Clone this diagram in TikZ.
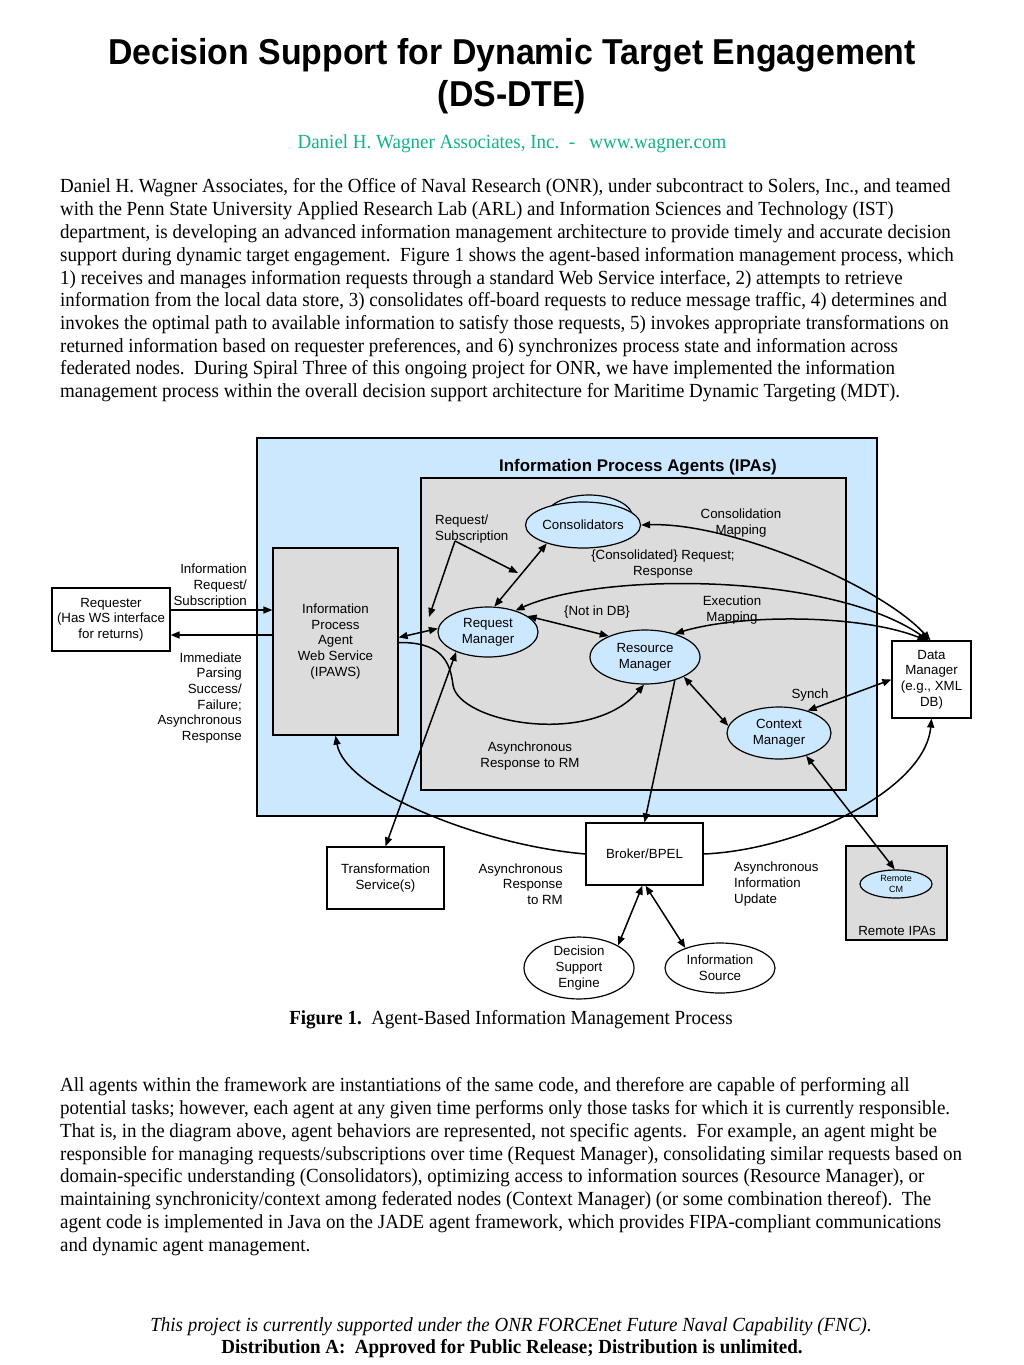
\documentclass[tikz,border=0pt]{standalone}
\usepackage{fontspec}
\setmainfont{Liberation Serif}[FakeStretch=0.95]
\newfontfamily\arialf{Liberation Sans}
\newfontfamily\arialt{Liberation Sans}[FakeStretch=0.94]
\usetikzlibrary{arrows.meta,shapes.geometric,calc}
\definecolor{ipablue}{RGB}{204,232,255}
\definecolor{ipagray}{RGB}{220,220,220}
\definecolor{wagnergreen}{RGB}{20,178,140}
\tikzset{
  titlef/.style={anchor=base, inner sep=0pt, font=\arialt\bfseries\fontsize{36}{42}\selectfont},
  serifline/.style={anchor=base, inner sep=0pt, font=\fontsize{20}{23}\selectfont},
  bodyline/.style={anchor=base west, inner sep=0pt, font=\fontsize{20}{23}\selectfont},
  lbl/.style={inner sep=0pt, align=center, font=\arialf\fontsize{13.3}{15.7}\selectfont},
  boldlbl/.style={inner sep=0pt, font=\arialf\bfseries\fontsize{16.9}{19}\selectfont},
  boxw/.style={draw, fill=white, line width=1.2pt, inner sep=0pt, align=center, font=\arialf\fontsize{13.3}{15.7}\selectfont},
  boxg/.style={boxw, fill=ipagray},
  ell/.style={ellipse, draw, fill=ipablue, line width=1.2pt, inner sep=0pt, align=center, font=\arialf\fontsize{13.3}{15.7}\selectfont},
  ellw/.style={ell, fill=white},
  con/.style={line width=1.5pt},
  arr/.style={con, -{Triangle[length=9pt,width=7pt]}},
  darr/.style={con, {Triangle[length=9pt,width=7pt]}-{Triangle[length=9pt,width=7pt]}}
}
\begin{document}
\begin{tikzpicture}[x=1pt,y=-1pt]
\useasboundingbox (0,0) rectangle (1024,1365);
\fill[white] (0,0) rectangle (1024,1365);

% ---- title block ----
\node[titlef] (t1) at (512,64) {Decision Support for Dynamic Target Engagement};
\node[titlef] (t2) at (512,106) {(DS-DTE)};
\node[serifline, text=wagnergreen] (sub) at (512,148) {Daniel H. Wagner Associates, Inc.\ \ -\ \ \ www.wagner.com};

% ---- first paragraph ----
\node[bodyline] (p1) at (60,192) {Daniel H. Wagner Associates, for the Office of Naval Research (ONR), under subcontract to Solers, Inc., and teamed};
\node[bodyline] (p2) at (60,215) {with the Penn State University Applied Research Lab (ARL) and Information Sciences and Technology (IST)};
\node[bodyline] (p3) at (60,238) {department, is developing an advanced information management architecture to provide timely and accurate decision};
\node[bodyline] (p4) at (60,261) {support during dynamic target engagement.\ \ Figure 1 shows the agent-based information management process, which};
\node[bodyline] (p5) at (60,284) {1) receives and manages information requests through a standard Web Service interface, 2) attempts to retrieve};
\node[bodyline] (p6) at (60,306) {information from the local data store, 3) consolidates off-board requests to reduce message traffic, 4) determines and};
\node[bodyline] (p7) at (60,329) {invokes the optimal path to available information to satisfy those requests, 5) invokes appropriate transformations on};
\node[bodyline] (p8) at (60,352) {returned information based on requester preferences, and 6) synchronizes process state and information across};
\node[bodyline] (p9) at (60,374) {federated nodes.\ \ During Spiral Three of this ongoing project for ONR, we have implemented the information};
\node[bodyline] (p10) at (60,397) {management process within the overall decision support architecture for Maritime Dynamic Targeting (MDT).};

% ---- diagram frames ----
\node[draw, fill=ipablue, line width=1.2pt, minimum width=620pt, minimum height=378pt, inner sep=0pt] (ipa) at (567,627) {};
\node[boldlbl] (ipatitle) at (638,467) {Information Process Agents (IPAs)};
\node[draw, fill=ipagray, line width=1.2pt, minimum width=425pt, minimum height=312pt, inner sep=0pt] (core) at (633.5,634) {};

% ---- nodes ----
\node[boxg, minimum width=125pt, minimum height=187pt] (ipaws) at (335.5,641.5) {Information\\Process\\Agent\\Web Service\\(IPAWS)};
\node[boxw, minimum width=118pt, minimum height=63pt] (req) at (111,619.5) {Requester\\(Has WS interface\\for returns)};
\node[boxw, minimum width=79pt, minimum height=77pt] (dm) at (931.5,679.5) {Data\\Manager\\(e.g., XML\\DB)};
\node[boxw, minimum width=117pt, minimum height=62pt] (broker) at (644.5,854) {Broker/BPEL};
\node[boxw, minimum width=117pt, minimum height=62pt] (trans) at (385.5,878) {Transformation\\Service(s)};
\node[boxg, minimum width=101pt, minimum height=94pt] (remote) at (896.5,893) {};
\node[lbl] (remotelbl) at (897,931) {Remote IPAs};
\node[ell, minimum width=72pt, minimum height=28pt, font=\arialf\fontsize{9}{11.5}\selectfont] (rcm) at (896,884) {Remote\\CM};

\node[ell, minimum width=88pt, minimum height=46pt] (consb) at (589,518) {};
\node[ell, minimum width=90pt, minimum height=46pt] (cons) at (583,525) {Consolidators};
\node[ell, minimum width=100pt, minimum height=50pt] (reqm) at (488,632) {Request\\Manager};
\node[ell, minimum width=110pt, minimum height=54pt] (resm) at (645,657) {Resource\\Manager};
\node[ell, minimum width=104pt, minimum height=52pt] (ctxm) at (779,733) {Context\\Manager};
\node[ellw, minimum width=110pt, minimum height=52pt] (dse) at (579,968) {Decision\\Support\\Engine};
\node[ellw, minimum width=110pt, minimum height=50pt] (isrc) at (720,968) {Information\\Source};

% ---- labels ----
\node[lbl, align=right, anchor=east] (lInfoReq) at (247,586) {Information\\Request/\\Subscription};
\node[lbl, align=right, anchor=east] (lImm) at (242,698) {Immediate\\Parsing\\Success/\\Failure;\\Asynchronous\\Response};
\node[lbl, align=left, anchor=west] (lReqSub) at (435,529) {Request/\\Subscription};
\node[lbl] (lConsMap) at (741,523) {Consolidation\\Mapping};
\node[lbl] (lConsReq) at (663,564) {\{Consolidated\} Request;\\Response};
\node[lbl] (lNotDB) at (597,612) {\{Not in DB\}};
\node[lbl] (lExec) at (732,610) {Execution\\Mapping};
\node[lbl] (lSynch) at (810,695) {Synch};
\node[lbl] (lAsyncRM) at (530,756) {Asynchronous\\Response to RM};
\node[lbl, align=right, anchor=east] (lAsyncResp) at (563,884) {Asynchronous\\Response\\to RM};
\node[lbl, align=left, anchor=west] (lAsyncInfo) at (734,884) {Asynchronous\\Information\\Update};

% ---- connectors ----
\coordinate (rq1) at ([yshift=9.5pt]req.east);
\draw[arr] (rq1) -- (rq1 -| ipaws.west);
\coordinate (rq2) at ([yshift=-15.5pt]req.east);
\draw[arr] (rq2 -| ipaws.west) -- (rq2);

\draw[darr] ([yshift=4pt]ipaws.east) -- (reqm.176);
\draw[darr] (reqm.76) -- (cons.207);

\coordinate (rs) at (455,541);
\coordinate (rsa) at (429,617);
\coordinate (rsb) at (518,573);
\draw[arr] (rs) -- (rsa);
\draw[arr] (rs) -- (rsb);

\draw[darr] (reqm.22) -- (resm.150);
\draw[darr] (reqm.38) .. controls (600,572) and (830,572) .. ([xshift=-3pt]dm.north);
\draw[darr] (cons.east) .. controls (730,522) and (880,585) .. ([xshift=-1pt]dm.north);
\draw[darr] (resm.38) .. controls (740,614) and (860,614) .. ([xshift=-5pt]dm.north);

\draw[darr] (resm.-27) -- (ctxm.172);
\draw[darr] (ctxm.38) -- (dm.west);
\draw[arr] (resm.-38) -- (broker.north);

\draw[arr] ([yshift=-1pt]ipaws.east) .. controls (440,642) and (450,660) .. (453,685)
  .. controls (458,722) and (590,748) .. (resm.-92);

\draw[darr] (reqm.212) -- (trans.north);
\draw[arr] (broker.west) .. controls (480,845) and (345,790) .. (ipaws.south);
\draw[arr] (broker.east) .. controls (800,850) and (925,790) .. (dm.south);
\draw[darr] (ctxm.-40) -- (rcm.95);
\draw[darr] ([xshift=-2pt]broker.south) -- (dse.30);
\draw[darr] ([xshift=1pt]broker.south) -- (isrc.150);

% ---- caption ----
\node[serifline] (cap) at (511,1024) {\textbf{Figure 1.}\ \ Agent-Based Information Management Process};

% ---- second paragraph ----
\node[bodyline] (q1) at (60,1091) {All agents within the framework are instantiations of the same code, and therefore are capable of performing all};
\node[bodyline] (q2) at (60,1114) {potential tasks; however, each agent at any given time performs only those tasks for which it is currently responsible.};
\node[bodyline] (q3) at (60,1137) {That is, in the diagram above, agent behaviors are represented, not specific agents.\ \ For example, an agent might be};
\node[bodyline] (q4) at (60,1160) {responsible for managing requests/subscriptions over time (Request Manager), consolidating similar requests based on};
\node[bodyline] (q5) at (60,1182) {domain-specific understanding (Consolidators), optimizing access to information sources (Resource Manager), or};
\node[bodyline] (q6) at (60,1205) {maintaining synchronicity/context among federated nodes (Context Manager) (or some combination thereof).\ \ The};
\node[bodyline] (q7) at (60,1228) {agent code is implemented in Java on the JADE agent framework, which provides FIPA-compliant communications};
\node[bodyline] (q8) at (60,1251) {and dynamic agent management.};

% ---- footer ----
\node[serifline, font=\itshape\fontsize{20}{23}\selectfont] (f1) at (511,1331) {This project is currently supported under the ONR FORCEnet Future Naval Capability (FNC).};
\node[serifline, font=\bfseries\fontsize{20}{23}\selectfont] (f2) at (512,1353) {Distribution A:\ \ Approved for Public Release; Distribution is unlimited.};
\end{tikzpicture}
\end{document}
